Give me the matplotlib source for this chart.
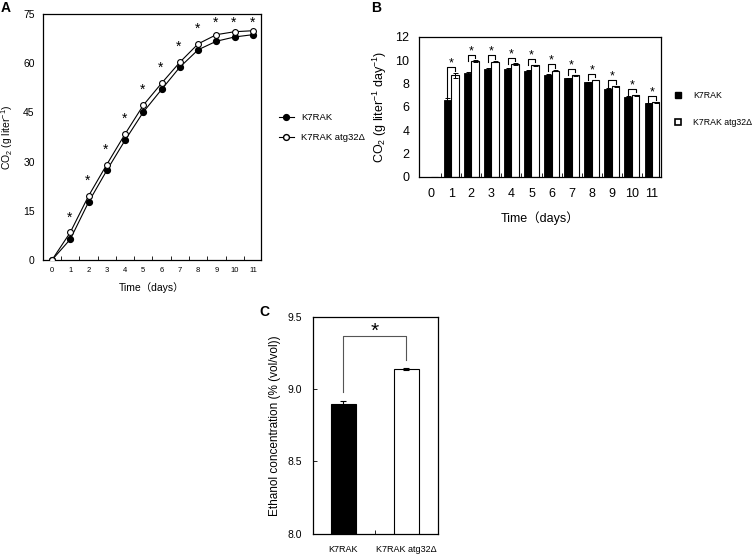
import numpy as np
import matplotlib.pyplot as plt
from matplotlib.lines import Line2D
from matplotlib.patches import Patch

plt.rcParams['font.family'] = ['Liberation Sans', 'Noto Sans CJK JP']
plt.rcParams['mathtext.fontset'] = 'custom'
plt.rcParams['mathtext.rm'] = 'Liberation Sans'
plt.rcParams['mathtext.it'] = 'Liberation Sans:italic'

days = np.arange(12)
strains = ['K7RAK', 'K7RAK atg32Δ']

# A - cumulative CO2 (g/l)
co2_wt = [0, 6.3, 17.6, 27.3, 36.5, 45.1, 52.0, 58.8, 64.1, 66.7, 68.0, 68.7]
co2_atg = [0, 8.4, 19.5, 29.1, 38.4, 47.2, 53.9, 60.3, 65.9, 68.7, 69.6, 69.9]

# B - daily CO2 (g/l/day)
rate_wt = [0, 6.57, 8.91, 9.23, 9.23, 9.09, 8.74, 8.43, 8.09, 7.54, 6.86, 6.29]
rate_atg = [0, 8.68, 9.91, 9.86, 9.66, 9.54, 9.09, 8.71, 8.29, 7.74, 7.00, 6.37]
rate_wt_err = [0, 0.18, 0.08, 0.06, 0.06, 0.06, 0.06, 0.05, 0.05, 0.05, 0.05, 0.04]
rate_atg_err = [0, 0.2, 0.06, 0.05, 0.05, 0.05, 0.05, 0.05, 0.04, 0.04, 0.04, 0.03]

# C - ethanol (% vol/vol)
ethanol = [8.90, 9.14]
ethanol_err = [0.02, 0.01]

W, H = 754, 556
fig = plt.figure(figsize=(W / 100, H / 100), dpi=100)

def box(l, t, r, b):
    return fig.add_axes([l / W, 1 - b / H, (r - l) / W, (b - t) / H])

# ---------------- A ----------------
axA = box(43, 14, 261, 260)
axA.plot(days, co2_wt, '-o', color='black', lw=0.8, ms=4.2, mfc='black', mec='black', zorder=3)
axA.plot(days, co2_atg, '-o', color='black', lw=0.8, ms=4.2, mfc='white', mec='black', mew=0.8, zorder=4)
for d in days[1:]:
    ys = min(co2_atg[d] + 4.6, 72.4)
    axA.text(d - 0.05, ys, '*', ha='center', va='center', fontsize=10)
axA.set_xlim(-0.49, 11.44)
axA.set_ylim(0, 75)
axA.set_yticks(np.arange(0, 76, 15))
axA.set_xticks(days)
axA.set_xticks(days[:-1] + 0.5, minor=True)
axA.tick_params(axis='x', which='major', length=0, pad=5, labelsize=5.5)
axA.tick_params(axis='x', which='minor', direction='in', length=3, width=0.6)
axA.tick_params(axis='y', direction='in', length=0, pad=6, labelsize=7.5)
axA.set_xlabel('Time（days）', fontsize=7.5, va='center')
axA.xaxis.set_label_coords(0.5, -0.11)
axA.set_ylabel('CO$_2$ (g liter$^{-1}$)', fontsize=7.5, va='center')
axA.yaxis.set_label_coords(-0.165, 0.5)
for s in axA.spines.values():
    s.set_linewidth(0.9)

legA = [Line2D([], [], color='black', lw=0.8, marker='o', ms=4.2, mfc='black', mec='black'),
        Line2D([], [], color='black', lw=0.8, marker='o', ms=4.2, mfc='white', mec='black')]
fig.legend(legA, strains, loc='center left', bbox_to_anchor=(270 / W, 1 - 127.5 / H),
           frameon=False, fontsize=6.8, handlelength=1.6, handletextpad=0.8, labelspacing=1.2)

# ---------------- B ----------------
axB = box(419, 36.7, 661, 176.7)
bw = 0.37
axB.bar(days - bw / 2, rate_wt, bw, color='black', edgecolor='black', lw=0.6,
        yerr=rate_wt_err, error_kw=dict(ecolor='black', elinewidth=0.7, capsize=1.8, capthick=0.7))
axB.bar(days + bw / 2, rate_atg, bw, color='white', edgecolor='black', lw=0.8,
        yerr=rate_atg_err, error_kw=dict(ecolor='black', elinewidth=0.7, capsize=1.8, capthick=0.7))
for d in days[1:]:
    top_w = rate_wt[d] + rate_wt_err[d]
    top_a = rate_atg[d] + rate_atg_err[d]
    h = max(top_w, top_a) + 0.5
    lb = h - 0.55
    if top_w < lb - 1:
        lb = top_w + 0.05
    xl, xr = d - bw / 2, d + bw / 2
    axB.plot([xl, xl, xr, xr], [lb, h, h, h - 0.3], color='black', lw=0.8)
    axB.text(d, h + 0.3, '*', ha='center', va='center', fontsize=9)
axB.set_xlim(-0.6, 11.45)
axB.set_ylim(0, 12)
axB.set_yticks(np.arange(0, 13, 2))
axB.set_xticks(days)
axB.set_xticks(days[:-1] + 0.5, minor=True)
axB.tick_params(axis='x', which='major', length=0, pad=8, labelsize=9)
axB.tick_params(axis='x', which='minor', direction='in', length=3, width=0.6)
axB.tick_params(axis='y', direction='in', length=0, pad=7, labelsize=9)
axB.set_xlabel('Time（days）', fontsize=9, va='center')
axB.xaxis.set_label_coords(0.5, -0.295)
axB.set_ylabel('CO$_2$ (g liter$^{-1}$ day$^{-1}$)', fontsize=9, va='center')
axB.yaxis.set_label_coords(-0.161, 0.5)
for s in axB.spines.values():
    s.set_linewidth(0.9)

legB = [Patch(facecolor='black', edgecolor='black'),
        Patch(facecolor='white', edgecolor='black', lw=1.2)]
fig.legend(legB, strains, loc='center left', bbox_to_anchor=(667 / W, 1 - 109 / H),
           frameon=False, fontsize=6.3, handlelength=0.7, handleheight=0.7,
           handletextpad=1.4, labelspacing=2.1)

# ---------------- C ----------------
axC = box(313, 317, 438, 533.5)
pos = np.array([0, 1])
axC.bar(pos, ethanol, 0.4, bottom=0, color=['black', 'white'], edgecolor='black', lw=0.8,
        yerr=ethanol_err, error_kw=dict(ecolor='black', elinewidth=0.8, capsize=2.5, capthick=0.8))
hC = max(ethanol) + 0.23
axC.plot([0, 0, 1, 1], [ethanol[0] + 0.08, hC, hC, ethanol[1] + 0.06], color='#555555', lw=0.8)
axC.text(0.5, hC + 0.03, '*', ha='center', va='center', fontsize=15)
axC.set_xlim(-0.484, 1.5)
axC.set_ylim(8.0, 9.5)
axC.set_yticks([8.0, 8.5, 9.0, 9.5])
axC.set_yticklabels(['8.0', '8.5', '9.0', '9.5'])
axC.set_xticks(pos)
axC.set_xticklabels(strains)
axC.set_xticks([0.5], minor=True)
axC.tick_params(axis='x', which='major', length=0, pad=8, labelsize=6.5)
axC.tick_params(axis='x', which='minor', direction='in', length=3, width=0.6)
axC.tick_params(axis='y', direction='in', length=3, width=0.6, pad=8, labelsize=7.5)
axC.set_ylabel('Ethanol concentration (% (vol/vol))', fontsize=8.5, va='center')
axC.yaxis.set_label_coords(-0.304, 0.5)
for s in axC.spines.values():
    s.set_linewidth(0.9)

fig.text(6 / W, 1 - 8 / H, 'A', fontsize=10, fontweight='bold', ha='center', va='center')
fig.text(376 / W, 1 - 8 / H, 'B', fontsize=10, fontweight='bold', ha='center', va='center')
fig.text(264 / W, 1 - 312 / H, 'C', fontsize=10, fontweight='bold', ha='center', va='center')

fig.savefig('out.png', dpi=100)
